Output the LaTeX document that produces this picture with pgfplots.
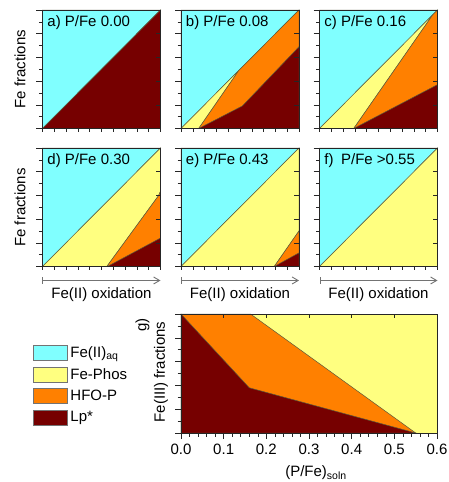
\documentclass[border=0pt]{standalone}
\usepackage{fontspec}
\setmainfont{Liberation Sans}
\usepackage{pgfplots}
\pgfplotsset{compat=1.18}
\usetikzlibrary{arrows.meta}
\definecolor{cFe}{RGB}{128,255,255}
\definecolor{cPh}{RGB}{255,255,128}
\definecolor{cHf}{RGB}{255,128,0}
\definecolor{cLp}{RGB}{118,0,0}
\definecolor{bnd}{RGB}{90,90,60}
\pgfplotsset{
  panel/.style={
    scale only axis, width=118pt, height=118.5pt,
    xmin=0, xmax=1, ymin=0, ymax=1,
    axis on top,
    axis line style={black!85, line width=0.8pt},
    xtick=\empty,
    ytick={0,0.2,0.4,0.6,0.8,1}, minor ytick={0.1,0.3,0.5,0.7,0.9},
    xticklabels={}, yticklabels={},
    ytick pos=left,
    tick align=outside,
    major tick length=6pt, minor tick length=3.5pt,
    every tick/.style={black!85, line width=0.6pt},
    clip=false,
  },
  reg/.style={fill=#1, draw=bnd, line width=0.5pt},
}
\newcommand{\rightticks}{\pgfplotsinvokeforeach{0.2,0.4,0.6,0.8}{\draw[black!85,line width=0.6pt] (axis cs:1,##1) -- ++(-5pt,0pt);}%
\pgfplotsinvokeforeach{0,0.1,0.2,0.3,0.4,0.5,0.6,0.7,0.8,0.9,1}{\draw[black!85,line width=0.6pt] (axis cs:##1,0) -- ++(0pt,-3.5pt);}}
\newcommand{\plabel}[1]{\node[anchor=north west, inner sep=0pt] at (rel axis cs:0.04,0.955) {#1};}
\newcommand{\oxid}{\draw[black!55, line width=0.9pt, {Bar[width=7pt]}-{Straight Barb[length=6pt,width=7pt]}] (rel axis cs:0,-0.118) -- (rel axis cs:1,-0.118);
\node at ([yshift=-28pt]rel axis cs:0.5,0) {Fe(II) oxidation};}
\begin{document}
\fontsize{15}{18}\selectfont
\begin{tikzpicture}[font=\fontsize{15}{18}\selectfont]
\useasboundingbox (0pt,0pt) rectangle (448pt,-482pt);
% ---------- a
\begin{axis}[panel, at={(42.5pt,-10pt)}, anchor=north west]
\addplot[reg=cFe] coordinates {(0,0) (1,1) (0,1)} -- cycle;
\addplot[reg=cLp] coordinates {(0,0) (1,0) (1,1)} -- cycle;
\rightticks
\plabel{a) P/Fe 0.00}
\end{axis}
% ---------- b
\begin{axis}[panel, at={(181pt,-10pt)}, anchor=north west]
\addplot[reg=cFe] coordinates {(0,0) (1,1) (0,1)} -- cycle;
\addplot[reg=cPh] coordinates {(0,0) (0.15,0) (0.49,0.49)} -- cycle;
\addplot[reg=cHf] coordinates {(0.15,0) (1,0) (1,1) (0.49,0.49)} -- cycle;
\addplot[reg=cLp] coordinates {(0.15,0) (1,0) (1,0.69) (0.52,0.19)} -- cycle;
\rightticks
\plabel{b) P/Fe 0.08}
\end{axis}
% ---------- c
\begin{axis}[panel, at={(319.5pt,-10pt)}, anchor=north west]
\addplot[reg=cFe] coordinates {(0,0) (1,1) (0,1)} -- cycle;
\addplot[reg=cPh] coordinates {(0,0) (0.29,0) (0.96,0.96)} -- cycle;
\addplot[reg=cHf] coordinates {(0.29,0) (1,0) (1,1) (0.96,0.96)} -- cycle;
\addplot[reg=cLp] coordinates {(0.29,0) (1,0) (1,0.37)} -- cycle;
\rightticks
\plabel{c) P/Fe 0.16}
\end{axis}
% ---------- d
\begin{axis}[panel, at={(42.5pt,-148pt)}, anchor=north west]
\addplot[reg=cFe] coordinates {(0,0) (1,1) (0,1)} -- cycle;
\addplot[reg=cPh] coordinates {(0,0) (0.545,0) (0.985,0.60) (1,0.635) (1,1)} -- cycle;
\addplot[reg=cHf] coordinates {(0.545,0) (1,0) (1,0.635) (0.985,0.60)} -- cycle;
\addplot[reg=cLp] coordinates {(0.55,0) (1,0) (1,0.24)} -- cycle;
\rightticks
\plabel{d) P/Fe 0.30}
\oxid
\end{axis}
% ---------- e
\begin{axis}[panel, at={(181pt,-148pt)}, anchor=north west]
\addplot[reg=cFe] coordinates {(0,0) (1,1) (0,1)} -- cycle;
\addplot[reg=cPh] coordinates {(0,0) (0.79,0) (1,0.30) (1,1)} -- cycle;
\addplot[reg=cHf] coordinates {(0.79,0) (1,0) (1,0.30)} -- cycle;
\addplot[reg=cLp] coordinates {(0.79,0) (1,0) (1,0.115)} -- cycle;
\rightticks
\plabel{e) P/Fe 0.43}
\oxid
\end{axis}
% ---------- f
\begin{axis}[panel, at={(319.5pt,-148pt)}, anchor=north west]
\addplot[reg=cFe] coordinates {(0,0) (1,1) (0,1)} -- cycle;
\addplot[reg=cPh] coordinates {(0,0) (1,0) (1,1)} -- cycle;
\rightticks
\plabel{f)\hspace{0.5em}P/Fe >0.55}
\oxid
\end{axis}
% ---------- g
\begin{axis}[scale only axis, width=256pt, height=119pt,
  at={(181pt,-314pt)}, anchor=north west,
  xmin=0, xmax=0.6, ymin=0, ymax=1,
  axis on top, clip=false,
  axis line style={black!85, line width=0.8pt},
  xtick={0,0.1,0.2,0.3,0.4,0.5,0.6}, minor x tick num=4,
  ytick={0,0.2,0.4,0.6,0.8,1}, minor ytick={0.1,0.3,0.5,0.7,0.9}, yticklabels={},
  xtick pos=bottom, ytick pos=left, tick align=outside,
  major tick length=6pt, minor tick length=3.5pt,
  every tick/.style={black!85, line width=0.6pt},
  xticklabel style={/pgf/number format/.cd, fixed, fixed zerofill, precision=1, assume math mode=true},
  legend image code/.code={\draw[#1, draw=black!55, line width=0.7pt] (0pt,-7.5pt) rectangle (34pt,7.5pt);},
  legend style={at={(axis description cs:-0.578,0.748)}, anchor=north west, draw=none, fill=none,
    inner sep=0pt, row sep=3.5pt, nodes={inner sep=2.5pt}},
  legend cell align=left,
]
\addlegendimage{fill=cFe}\addlegendentry{Fe(II)\textsubscript{aq}}
\addlegendimage{fill=cPh}\addlegendentry{Fe-Phos}
\addlegendimage{fill=cHf}\addlegendentry{HFO-P}
\addlegendimage{fill=cLp}\addlegendentry{Lp*}
\addplot[reg=cPh, forget plot] coordinates {(0,0) (0.6,0) (0.6,1) (0,1)} -- cycle;
\addplot[reg=cHf, forget plot] coordinates {(0,0) (0,1) (0.163,1) (0.55,0)} -- cycle;
\addplot[reg=cLp, forget plot] coordinates {(0,0) (0,1) (0.16,0.38) (0.55,0)} -- cycle;
\pgfplotsinvokeforeach{0.1,0.2,0.3,0.4,0.5}{\draw[black!85,line width=0.6pt] (axis cs:#1,1) -- ++(0pt,-4pt);}
\end{axis}
% ---------- free labels
\node[rotate=90] at (20pt,-69pt) {Fe fractions};
\node[rotate=90] at (20pt,-207.5pt) {Fe fractions};
\node[rotate=90] at (161pt,-372pt) {Fe(III) fractions};
\node[rotate=90] at (142.5pt,-325pt) {g)};
\node at (316pt,-473pt) {(P/Fe)\textsubscript{soln}};
\end{tikzpicture}
\end{document}
